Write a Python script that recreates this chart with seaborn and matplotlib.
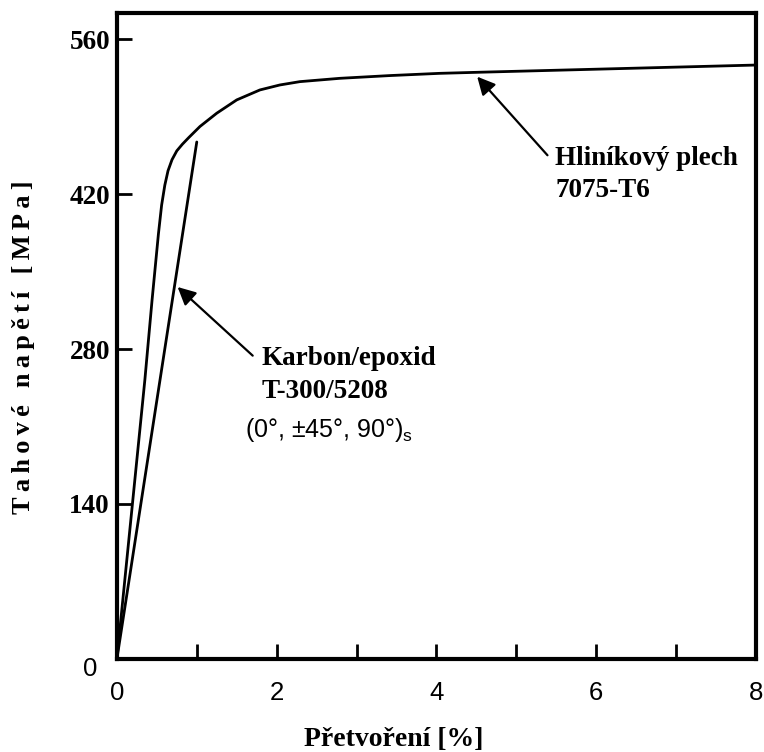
import pandas as pd
import seaborn as sns
import matplotlib.pyplot as plt

# Hliníkový plech 7075-T6
al_strain = [0, 0.35, 0.44, 0.52, 0.56, 0.60, 0.64, 0.69, 0.75, 0.82, 0.90, 1.04, 1.25, 1.50, 1.79, 2.04, 2.29, 2.79, 3.42, 4.04, 4.54, 8.0]
al_stress = [0, 252, 324, 384, 410, 428, 441, 451, 459, 465, 471, 481, 493, 505, 514, 518.5, 521.5, 524.5, 527, 529, 530, 536.5]

# Karbon/epoxid T-300/5208
cf_strain = [0, 1.0]
cf_stress = [0, 467]

x_ticks = [0, 1, 2, 3, 4, 5, 6, 7, 8]
x_ticklabels = ["0", "", "2", "", "4", "", "6", "", "8"]
y_ticks = [0, 140, 280, 420, 560]
y_ticklabels = ["", "140", "280", "420", "560"]

serif = "Liberation Serif"
sans = "Liberation Sans"

sns.set_theme(style="ticks")
plt.rcParams["font.family"] = [serif, "DejaVu Serif"]
plt.rcParams["mathtext.fontset"] = "custom"
plt.rcParams["mathtext.rm"] = sans
for k in ["text.color", "axes.labelcolor", "xtick.color", "ytick.color", "axes.edgecolor"]:
    plt.rcParams[k] = "black"

df = pd.concat([
    pd.DataFrame({"strain": al_strain, "stress": al_stress, "material": "al"}),
    pd.DataFrame({"strain": cf_strain, "stress": cf_stress, "material": "cf"}),
])

fig = plt.figure(figsize=(7.64, 7.52), dpi=100)
ax = fig.add_axes([0.153, 0.1237, 0.8365, 0.859])

sns.lineplot(data=df, x="strain", y="stress", hue="material", palette=["black", "black"],
             estimator=None, sort=False, legend=False, linewidth=2.0, ax=ax)

ax.set_xlim(0, 8)
ax.set_ylim(0, 583.5)
for s in ax.spines.values():
    s.set_linewidth(3)
    s.set_color("black")

ax.set_xticks(x_ticks)
ax.set_xticklabels(x_ticklabels, fontfamily=sans, fontsize=18.5)
ax.set_yticks(y_ticks)
ax.set_yticklabels(y_ticklabels, fontfamily=serif, fontweight="bold", fontsize=19.5)
ax.tick_params(direction="in", length=11, width=2, color="black", labelcolor="black")
ax.tick_params(axis="x", pad=16)
ax.tick_params(axis="y", pad=5)
ax.annotate("0", xy=(0, 0), xytext=(-19.5, -7), textcoords="offset points",
            ha="center", va="center", fontfamily=sans, fontsize=18.5, color="black")

# popisek osy y je v originále prostrkaný
ylab = "\u2009".join("Tahové napětí [MPa]")
ax.set_xlabel("Přetvoření [%]", fontweight="bold", fontsize=20, color="black")
ax.set_ylabel(ylab, fontweight="bold", fontsize=19, color="black")
ax.xaxis.set_label_coords(0.4335, -0.125)
ax.xaxis.label.set_va("center")
ax.yaxis.set_label_coords(-0.1455, 0.483)
ax.yaxis.label.set_va("center")

arrow = dict(arrowstyle="-|>,head_length=0.9,head_width=0.45", color="black", lw=1.6, shrinkA=0, shrinkB=0)
ax.annotate("", xy=(0.76, 336), xytext=(1.70, 274), arrowprops=arrow)
ax.annotate("", xy=(4.51, 526), xytext=(5.39, 455), arrowprops=arrow)

txt = dict(fontweight="bold", fontsize=19.5, ha="left", va="baseline", color="black")
ax.text(1.815, 265.5, "Karbon/epoxid", **txt)
ax.text(1.815, 235.7, "T-300/5208", **txt)
ax.text(1.60, 200.5, "(0°, ±45°, 90°)$_\\mathrm{s}$", fontfamily=sans, fontsize=18,
        ha="left", va="baseline", color="black")
ax.text(5.49, 446.2, "Hliníkový plech", **txt)
ax.text(5.49, 417.5, "7075-T6", **txt)

fig.savefig("out.png", dpi=100)
